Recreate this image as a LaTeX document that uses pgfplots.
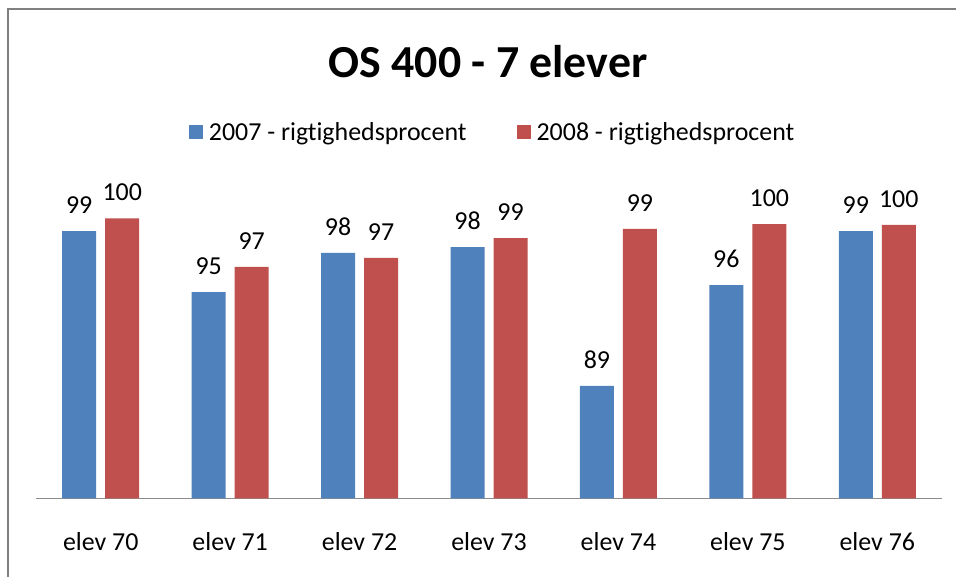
\documentclass[border=0pt]{standalone}
\usepackage{pgfplots}
\pgfplotsset{compat=1.18}
\usepackage{fontspec}
\setmainfont{Carlito}[Ligatures={NoCommon}]
\definecolor{c07}{HTML}{4F81BD}
\definecolor{c08}{HTML}{C0504D}
\begin{document}
\begin{tikzpicture}
\useasboundingbox (0bp,0bp) rectangle (956bp,-577bp);
\fill[white] (0bp,0bp) rectangle (956bp,-577bp);
\draw[black!50, line width=1.6bp] (8bp,-600bp) -- (8bp,-9bp) -- (990bp,-9bp);
\node[font=\fontsize{46}{50}\selectfont\bfseries] at (488bp,-62bp) {OS 400 - 7 elever};
\begin{axis}[
  at={(36bp,-498.3bp)}, anchor=south west,
  scale only axis, width=906bp, height=295.6bp,
  ybar, bar width=34bp,
  xmin=-0.5, xmax=6.5, ymin=82, ymax=101,
  axis x line*=bottom, hide y axis,
  x axis line style={black!45, line width=1bp, -},
  xtick={0,...,6}, major tick length=0,
  xticklabels={elev 70,elev 71,elev 72,elev 73,elev 74,elev 75,elev 76},
  xticklabel style={font=\fontsize{26}{30}\selectfont, anchor=base, yshift=-52bp},
  /pgf/number format/assume math mode=true,
  nodes near coords={\pgfmathprintnumber[fixed,precision=0,assume math mode=true]{\pgfplotspointmeta}},
  every node near coord/.append style={font=\fontsize{26}{30}\selectfont, anchor=south, inner sep=0pt, yshift=17bp, black},
  legend columns=2,
  legend style={at={(0.504,1.239)}, anchor=center, draw=none, fill=none,
    font=\fontsize{26}{30}\selectfont, /tikz/every even column/.append style={column sep=48bp}},
  legend image code/.code={\fill[#1] (0bp,-7bp) rectangle (14bp,7bp); \path (18bp,0bp);},
  clip=false,
]
\addplot[fill=c07, draw=none, bar shift=-21.5bp] coordinates {
(0,99.18) (1,95.26) (2,97.77) (3,98.15) (4,89.22) (5,95.71) (6,99.18)};
\addplot[fill=c08, draw=none, bar shift=21.5bp] coordinates {
(0,100.0) (1,96.87) (2,97.45) (3,98.73) (4,99.31) (5,99.63) (6,99.57)};
\legend{2007 - rigtighedsprocent, 2008 - rigtighedsprocent}
\end{axis}
\end{tikzpicture}
\end{document}
